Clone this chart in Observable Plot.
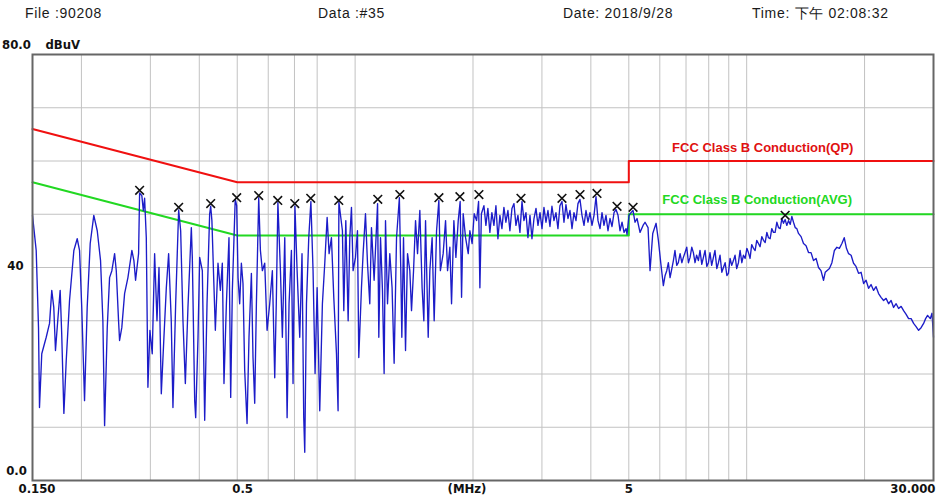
<!DOCTYPE html>
<html><head><meta charset="utf-8">
<script src="https://cdn.jsdelivr.net/npm/d3@7"></script>
<script src="https://cdn.jsdelivr.net/npm/@observablehq/plot@0.6"></script>
<style>
body{margin:0;background:#fff;}
#wrap{position:relative;width:940px;height:498px;overflow:hidden;}
.hdr{position:absolute;top:5px;font-family:"Liberation Sans",Arial,sans-serif;font-size:14px;letter-spacing:0.7px;color:#1a1a1a;white-space:nowrap;}
</style></head><body>
<div id="wrap"></div>
<script>
// ---- header texts ----
const headerTexts = ["File :90208", "Data :#35", "Date: 2018/9/28", "Time: 下午 02:08:32"];

// ---- axis labels ----
const xTickValues = [0.15, 0.5, 5, 30];
const xTickLabels = ["0.150", "0.5", "5", "30.000"];
const xUnit = "(MHz)";
const yTickValues = [80, 40, 0];
const yTickLabels = ["80.0", "40", "0.0"];
const yUnit = "dBuV";

// ---- grid ----
const gridFreqs = [0.2, 0.3, 0.4, 0.5, 0.6, 0.7, 0.8, 1, 2, 3, 4, 5, 6, 7, 8, 9, 10, 20];
const gridLevels = [10, 20, 30, 40, 50, 60, 70];

// ---- limit lines (MHz, dBuV) ----
const qpFreq = [0.15, 0.5, 5, 5, 30];
const qpLevel = [66, 56, 56, 60, 60];
const avgFreq = [0.15, 0.5, 5, 5, 30];
const avgLevel = [56, 46, 46, 50, 50];
const qpLabel = "FCC Class B Conduction(QP)";
const avgLabel = "FCC Class B Conduction(AVG)";

// ---- peak markers (MHz, dBuV) ----
const markerFreq = [0.2816, 0.3543, 0.4277, 0.4984, 0.5673, 0.6345, 0.7013, 0.7703, 0.9084, 1.1426, 1.301, 1.637, 1.852, 2.071, 2.652, 3.375, 3.753, 4.147, 4.666, 5.127, 12.54];
const markerLevel = [54.5, 51.3, 52.0, 53.1, 53.5, 52.6, 52.0, 53.0, 52.6, 52.8, 53.7, 53.1, 53.3, 53.7, 53.0, 53.0, 53.7, 53.9, 51.5, 51.3, 49.8];

// ---- measured trace [MHz, dBuV] ----
const traceLowBand = [
[0.150,49.8],[0.1533,43.2],[0.1554,28.7],[0.1563,13.7],[0.1584,23.8],[0.1626,26.9],[0.1658,29.5],[0.1680,35.7],[0.1700,32.5],[0.1717,24.4],[0.1740,30.0],[0.1765,35.7],[0.1781,27.6],[0.1804,12.6],[0.1829,22.5],[0.1865,33.8],[0.1913,43.2],[0.1951,45.4],[0.1978,43.2],[0.2004,32.5],[0.2037,15.0],[0.2069,32.5],[0.2106,44.5],[0.2151,49.8],[0.2195,46.9],[0.2238,41.3],[0.2269,30.0],[0.2292,10.3],[0.2328,28.7],[0.2360,38.1],[0.2392,39.4],[0.2431,42.6],[0.2455,39.4],[0.2488,30.0],[0.2503,26.3],[0.2536,28.7],[0.2578,35.1],[0.2629,38.1],[0.2691,43.2],[0.2723,41.3],[0.2750,37.6],[0.2799,42.6],[0.2816,54.0],[0.2853,53.5],[0.2878,50.7],[0.2900,53.0],[0.2929,45.6],[0.2957,17.5],[0.2992,28.2],[0.3033,23.8],[0.3076,42.6],[0.3119,30.0],[0.3156,40.0],[0.3199,16.3],[0.3249,26.9],[0.3295,36.2],[0.3340,42.6],[0.3392,30.0],[0.3426,13.7],[0.3481,33.2],[0.3543,50.8],[0.3585,46.9],[0.3634,30.0],[0.3685,18.2],[0.3742,32.5],[0.3817,47.5],
[0.3839,41.9],[0.3893,15.0],[0.3916,11.8],[0.3970,26.9],[0.4009,41.9],[0.4072,39.4],[0.4129,11.3],[0.4186,33.2],[0.4251,50.0],[0.4277,51.5],[0.4308,48.8],[0.4353,38.1],[0.4396,28.2],[0.4465,40.8],[0.4528,35.7],[0.4580,40.8],[0.4625,18.2],[0.4691,33.2],[0.4763,45.6],[0.4811,15.6],[0.4858,35.7],[0.4941,52.8],[0.4984,51.6],[0.5024,38.1],[0.5072,33.2],[0.5123,40.8],[0.5172,37.0],[0.5224,20.7],[0.5297,10.7],[0.5358,26.9],[0.5434,38.9],[0.5486,23.1],[0.5541,14.5],[0.5596,33.2],[0.5673,53.1],[0.5730,43.2],[0.5796,39.4],[0.5877,40.8],[0.5959,28.2],[0.6052,33.2],[0.6147,39.4],[0.6233,19.3],[0.6290,33.2],[0.6350,52.2],[0.6446,39.4],[0.6520,26.9],[0.6612,45.6],[0.6704,11.8],[0.6781,33.2],[0.6876,43.2],[0.6942,18.2],[0.7020,51.5],[0.7110,39.4],[0.7221,26.9],[0.7318,42.6],[0.7393,11.8],[0.7437,5.3],[0.7512,33.2],[0.7614,45.6],[0.7710,52.4],[0.7809,39.4],[0.7902,20.1],[0.7998,36.2],[0.8122,13.1],[0.8250,33.2],[0.8366,40.8],[0.8483,49.4],[0.8581,42.6],[0.8701,45.6],[0.8821,34.4],[0.8962,23.8],[0.9047,13.1],[0.9090,52.3],[0.9281,46.9],[0.9356,31.9],[0.9467,48.8],[0.9599,30.0],
[0.9692,45.6],[0.9788,51.3],[0.9882,39.4],[1.0022,41.9],[1.0140,46.9],[1.0218,23.1],[1.0381,36.2],[1.0481,42.6],[1.0629,50.1],[1.0755,40.8],[1.0901,33.2],[1.1010,47.5],[1.1182,37.6],[1.1412,52.0],[1.1495,26.9],[1.1612,45.6],[1.1745,35.7],[1.1860,20.1],[1.1957,48.8],[1.2099,33.2],[1.2263,42.6],[1.2428,36.2],[1.2579,22.0],[1.2758,45.6],[1.2972,53.1],[1.3082,39.4],[1.3162,26.9],[1.3293,45.6],[1.3451,24.4],[1.3610,42.6],[1.3795,39.4],[1.3933,31.9],[1.4100,39.4],[1.4267,48.8],[1.4435,42.6],[1.4632,50.7],[1.4828,36.2],[1.4981,30.0],[1.5131,48.8],[1.5370,26.9],[1.5518,39.4],[1.5727,45.6],[1.5918,30.0],[1.6144,46.9],[1.6363,52.6],[1.6510,39.4],[1.6783,42.6],[1.7021,48.8],[1.7222,39.4],[1.7457,43.8],[1.7631,33.2],[1.7874,48.8],[1.8087,41.9],[1.8338,48.8],[1.8547,52.4],[1.8700,34.4],[1.8880,50.1],[1.9147,45.6],[1.9449,42.6],[1.9638,46.9],[1.9901,44.5],[2.0143,50.1],[2.0429,48.8],[2.0669,52.4],[2.0829,36.2],[2.1014,50.1]
];
const traceMidBand = [
[2.133,51.6],[2.158,47.9],[2.183,51.1],[2.209,46.6],[2.235,50.3],[2.262,47.9],[2.289,51.6],[2.316,45.4],[2.343,49.8],[2.371,47.3],[2.399,51.3],[2.427,48.5],[2.456,50.7],[2.485,46.9],[2.515,51.1],[2.545,52.0],[2.575,47.9],[2.605,49.8],[2.636,46.6],[2.668,52.4],[2.699,48.8],[2.731,50.3],[2.763,45.6],[2.796,49.8],[2.829,45.4],[2.863,49.2],[2.897,51.1],[2.931,47.9],[2.966,50.3],[3.001,47.3],[3.036,51.3],[3.072,48.5],[3.108,50.7],[3.145,47.7],[3.182,51.5],[3.220,48.8],[3.258,50.3],[3.296,47.3],[3.335,51.6],[3.375,52.4],[3.415,48.5],[3.455,51.8],[3.496,49.2],[3.538,50.7],[3.580,47.3],[3.622,50.3],[3.665,48.8],[3.708,52.0],[3.752,52.8],[3.797,49.8],[3.842,47.9],[3.887,50.7],[3.933,48.5],[3.979,50.3],[4.027,47.9],[4.075,49.8],[4.123,53.3],[4.172,48.8],[4.221,47.3],[4.271,50.3],[4.321,47.9],[4.372,49.8],[4.424,46.9],[4.476,49.2],[4.530,47.7],[4.584,50.3],[4.638,50.9],[4.693,49.8],[4.748,46.9],[4.805,48.5],[4.862,46.6],[4.919,47.3],[4.948,46.2],[5.006,49.8],[5.066,50.3],[5.126,50.7],[5.186,48.5],[5.248,49.2],[5.341,46.6],[5.437,47.9],[5.501,48.5],[5.599,47.5],[5.665,39.4],[5.756,46.4],[5.870,48.3],[5.950,45.1],[6.035,40.8],[6.127,36.6]
];
const traceHighBand = [
[6.19,38.5],[6.25,39.4],[6.31,40.9],[6.373,38.1],[6.44,39.8],[6.499,41.3],[6.56,43.2],[6.629,40.4],[6.69,40.9],[6.76,42.6],[6.83,40.9],[6.892,41.9],[6.96,42.8],[7.031,43.8],[7.10,40.9],[7.169,41.9],[7.24,43.8],[7.31,42.8],[7.38,40.9],[7.45,42.3],[7.528,41.3],[7.60,43.2],[7.68,40.6],[7.754,41.9],[7.83,43.2],[7.91,40.2],[7.985,40.9],[8.06,42.8],[8.14,40.4],[8.224,41.9],[8.30,43.2],[8.39,39.8],[8.469,40.9],[8.55,42.3],[8.64,39.1],[8.722,40.0],[8.81,40.9],[8.90,38.5],[8.982,38.9],[9.07,41.7],[9.16,40.4],[9.251,41.3],[9.34,42.3],[9.43,39.8],[9.527,40.9],[9.62,43.2],[9.72,40.9],[9.812,42.3],[9.91,41.7],[10.01,43.6],[10.105,42.8],[10.20,41.7],[10.30,44.3],[10.407,43.6],[10.51,43.2],[10.61,45.1],[10.717,44.5],[10.82,43.9],[10.93,45.8],[11.038,45.1],[11.15,44.7],[11.26,46.6],[11.367,45.6],[11.48,45.4],[11.59,47.3],[11.707,46.6],[11.82,46.6],[11.94,48.5],[12.056,47.5],[12.18,47.3],[12.30,49.2],[12.416,48.3],[12.54,49.0],[12.66,47.9],[12.787,48.8],[12.92,48.1],[13.043,49.6],[13.17,48.5],[13.301,47.5],[13.43,47.3],[13.563,46.4],[13.77,45.8],[13.968,44.5],[14.18,44.1],[14.385,42.8],[14.60,42.8],[14.815,41.3],[15.04,41.7],[15.257,40.0],[15.48,39.4],[15.713,37.6],[15.87,39.1],[16.028,39.4],[16.27,39.8],[16.507,40.9],[16.75,43.2],[16.999,43.8],[17.25,43.6],[17.506,44.5],[17.748,45.6],[17.98,43.6],[18.209,42.6],[18.48,42.3],[18.748,40.8],[19.02,40.2],[19.307,38.9],[19.60,39.1],[19.885,37.0],[20.18,37.6],[20.478,36.1],[20.78,36.8],[21.09,35.7],[21.40,36.4],[21.719,35.1],[22.04,34.4],[22.368,33.8],[22.70,34.2],[23.036,33.2],[23.38,33.8],[23.725,32.5],[24.08,33.2],[24.433,32.3],[24.80,32.7],[25.163,31.9],[25.54,31.2],[25.914,30.4],[26.30,30.4],[26.688,29.5],[27.08,28.9],[27.484,28.2],[27.89,28.7],[28.305,29.5],[28.64,30.4],[28.975,31.0],[29.441,30.4],[29.734,31.4],[30.0,26.9]
];

// ---- build tables for Plot ----
const trace = [...traceLowBand, ...traceMidBand, ...traceHighBand].map(([f, v]) => ({f, v}));
const qp = qpFreq.map((f, i) => ({f, v: qpLevel[i]}));
const avg = avgFreq.map((f, i) => ({f, v: avgLevel[i]}));
const markers = markerFreq.map((f, i) => ({f, v: markerLevel[i]}));
const xTicks = xTickValues.map((f, i) => ({f, label: xTickLabels[i]}));
const yTicks = yTickValues.map((v, i) => ({v, label: yTickLabels[i]}));

const axisFont = '"Liberation Sans Narrow","DejaVu Sans Condensed","Arial Narrow",sans-serif';
const labelFont = '"Liberation Sans",Arial,sans-serif';

const chart = Plot.plot({
  width: 940,
  height: 498,
  marginLeft: 32,
  marginRight: 7,
  marginTop: 54,
  marginBottom: 18,
  x: {type: "log", domain: [0.15, 30], axis: null},
  y: {domain: [0, 80], axis: null},
  style: {background: "#fff", overflow: "visible"},
  marks: [
    Plot.ruleX(gridFreqs, {stroke: "#c2c2c2", strokeWidth: 1}),
    Plot.ruleY(gridLevels, {stroke: "#c2c2c2", strokeWidth: 1}),
    Plot.line(qp, {x: "f", y: "v", stroke: "#f01010", strokeWidth: 2}),
    Plot.line(avg, {x: "f", y: "v", stroke: "#22d822", strokeWidth: 2}),
    Plot.line(trace, {x: "f", y: "v", stroke: "#1c1cc8", strokeWidth: 1.35}),
    Plot.dot(markers, {x: "f", y: "v", symbol: "times", r: 4, stroke: "#111", strokeWidth: 1.6}),
    Plot.frame({stroke: "#666", strokeWidth: 2}),
    // limit labels
    Plot.text([qpLabel], {x: 6.45, y: 62.5, text: d => d, textAnchor: "start", fill: "#e01010", fontWeight: "bold", fontSize: 13, fontFamily: labelFont}),
    Plot.text([avgLabel], {x: 6.09, y: 52.8, text: d => d, textAnchor: "start", fill: "#22d822", fontWeight: "bold", fontSize: 13, fontFamily: labelFont}),
    // y tick labels
    Plot.text(yTicks.filter(d => d.v !== 40), {y: "v", text: "label", frameAnchor: "left", dx: -16, dy: -10, textAnchor: "middle", fontWeight: "bold", fontSize: 13, fontFamily: axisFont, fill: "#111"}),
    Plot.text(yTicks.filter(d => d.v === 40), {y: "v", text: "label", frameAnchor: "left", dx: -17, dy: -2, textAnchor: "middle", fontWeight: "bold", fontSize: 13, fontFamily: axisFont, fill: "#111"}),
    Plot.text([yUnit], {frameAnchor: "top-left", text: d => d, dx: 13, dy: -10, textAnchor: "start", lineAnchor: "middle", fontWeight: "bold", fontSize: 13, fontFamily: axisFont, fill: "#111"}),
    // x tick labels
    Plot.text(xTicks.filter(d => d.f === 0.15), {x: "f", text: "label", frameAnchor: "bottom", dy: 12, dx: -14, textAnchor: "start", fontWeight: "bold", fontSize: 13, fontFamily: axisFont, fill: "#111"}),
    Plot.text(xTicks.filter(d => d.f === 0.5), {x: "f", text: "label", frameAnchor: "bottom", dy: 12, dx: -5, textAnchor: "start", fontWeight: "bold", fontSize: 13, fontFamily: axisFont, fill: "#111"}),
    Plot.text(xTicks.filter(d => d.f === 5), {x: "f", text: "label", frameAnchor: "bottom", dy: 12, textAnchor: "middle", fontWeight: "bold", fontSize: 13, fontFamily: axisFont, fill: "#111"}),
    Plot.text(xTicks.filter(d => d.f === 30), {x: "f", text: "label", frameAnchor: "bottom", dy: 12, dx: 2, textAnchor: "end", fontWeight: "bold", fontSize: 13, fontFamily: axisFont, fill: "#111"}),
    Plot.text([xUnit], {frameAnchor: "bottom", text: d => d, dx: -16, dy: 12, textAnchor: "middle", fontWeight: "bold", fontSize: 13, fontFamily: axisFont, fill: "#111"})
  ]
});

const wrap = document.getElementById("wrap");
wrap.appendChild(chart);
const headerLeft = [25, 318, 563, 752];
headerTexts.forEach((t, i) => {
  const s = document.createElement("span");
  s.className = "hdr";
  s.style.left = headerLeft[i] + "px";
  s.textContent = t;
  wrap.appendChild(s);
});
</script>
</body></html>
